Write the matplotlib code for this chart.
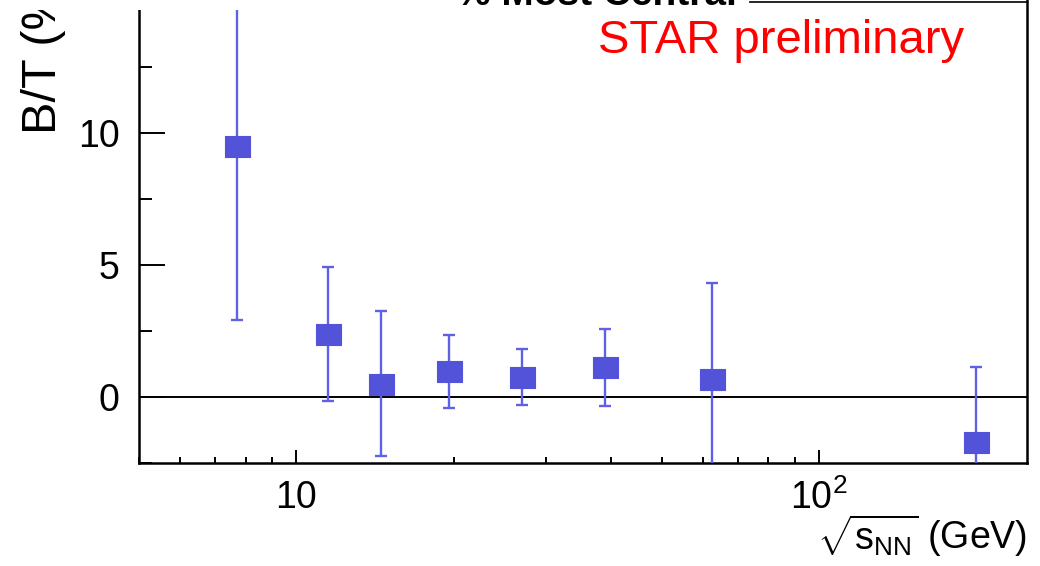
import numpy as np
import matplotlib
matplotlib.use("Agg")
import matplotlib.pyplot as plt
from matplotlib.ticker import MultipleLocator, LogLocator, NullFormatter, FuncFormatter
from matplotlib.patches import Rectangle
from matplotlib.lines import Line2D

plt.rcParams['font.family'] = ['Liberation Sans', 'DejaVu Sans']
plt.rcParams['mathtext.fontset'] = 'custom'
plt.rcParams['mathtext.rm'] = 'Liberation Sans'
plt.rcParams['mathtext.it'] = 'Liberation Sans:italic'
plt.rcParams['mathtext.default'] = 'regular'

# collision energies (GeV) and B/T ratio (%) with errors
energy = [7.7, 11.5, 14.5, 19.6, 27, 39, 62.4, 200]
bt = [9.5, 2.38, 0.5, 0.97, 0.75, 1.12, 0.68, -1.7]
bt_err = [6.6, 2.55, 2.75, 1.38, 1.06, 1.47, 3.64, 2.84]

W, H = 1040, 566
fig = plt.figure(figsize=(W / 100, H / 100), dpi=100)

# axes runs past the top edge of the canvas
x0, x1 = 139, 1027
ybot = 463
ylo, yhi = -2.5, 16
ppu = 26.4
ytop = ybot - (yhi - ylo) * ppu
ax = fig.add_axes([x0 / W, 1 - ybot / H, (x1 - x0) / W, (ybot - ytop) / H])

col = '#5353da'
ecol = '#6060e6'
rect = [(-0.5, -0.42), (0.5, -0.42), (0.5, 0.42), (-0.5, 0.42), (-0.5, -0.42)]
ax.errorbar(energy, bt, yerr=bt_err, fmt='none', ecolor=ecol, elinewidth=1.7,
            capsize=4.5, capthick=1.7, zorder=3)
ax.plot(energy, bt, linestyle='none', marker=rect, markersize=18,
        markerfacecolor=col, markeredgecolor=col, markeredgewidth=0.8, zorder=4)

ax.axhline(0, color='black', lw=1.4, zorder=2)

ax.set_xscale('log')
ax.set_xlim(5, 250)
ax.set_ylim(ylo, yhi)

ax.yaxis.set_major_locator(MultipleLocator(5))
ax.yaxis.set_minor_locator(MultipleLocator(2.5))
ax.xaxis.set_major_locator(LogLocator(base=10, numticks=10))
ax.xaxis.set_minor_locator(LogLocator(base=10, subs=np.arange(2, 10), numticks=10))
ax.xaxis.set_minor_formatter(NullFormatter())


def xfmt(v, pos):
    if abs(v - 10) < 1e-6:
        return '10'
    if abs(v - 100) < 1e-6:
        return r'$10^{2}$'
    return ''


def yfmt(v, pos):
    # the 15 label sits under the blank strip at the top
    return '%d' % v if v < 12 else ''


ax.xaxis.set_major_formatter(FuncFormatter(xfmt))
ax.yaxis.set_major_formatter(FuncFormatter(yfmt))

ax.tick_params(axis='y', which='major', direction='in', length=19, width=1.4,
               labelsize=27, pad=14, right=False)
ax.tick_params(axis='y', which='minor', direction='in', length=9.5, width=1.4,
               right=False)
ax.tick_params(axis='x', which='major', direction='in', length=9.5, width=1.4,
               labelsize=27, pad=12, top=False)
ax.tick_params(axis='x', which='minor', direction='in', length=4.5, width=1.4,
               top=False)

for s in ax.spines.values():
    s.set_linewidth(1.8)

fig.text(x1 / W, 1 - 549 / H, r'$\sqrt{\mathrm{s}_{\mathrm{NN}}}$ (GeV)',
         ha='right', va='baseline', fontsize=27)

fig.text(44 / W, 1 - 134 / H, 'B/T (%)', rotation=90, ha='center', va='bottom',
         fontsize=35)

fig.text(456 / W, 1 - 5 / H, '% Most Central', ha='left', va='baseline',
         fontsize=28, fontweight='bold')

# legend box edge at the top right
fig.add_artist(Line2D([750 / W, x1 / W], [1 - 1.5 / H] * 2, color='black', lw=1.2))

fig.text(598 / W, 1 - 53 / H, 'STAR preliminary', color='#ff0000', ha='left',
         va='baseline', fontsize=34)

# blank strip across the upper left
fig.add_artist(Rectangle((0, 1 - 10 / H), 450 / W, 10 / H, transform=fig.transFigure,
                         facecolor='white', edgecolor='none', zorder=10))

fig.savefig('out.png', dpi=100)
